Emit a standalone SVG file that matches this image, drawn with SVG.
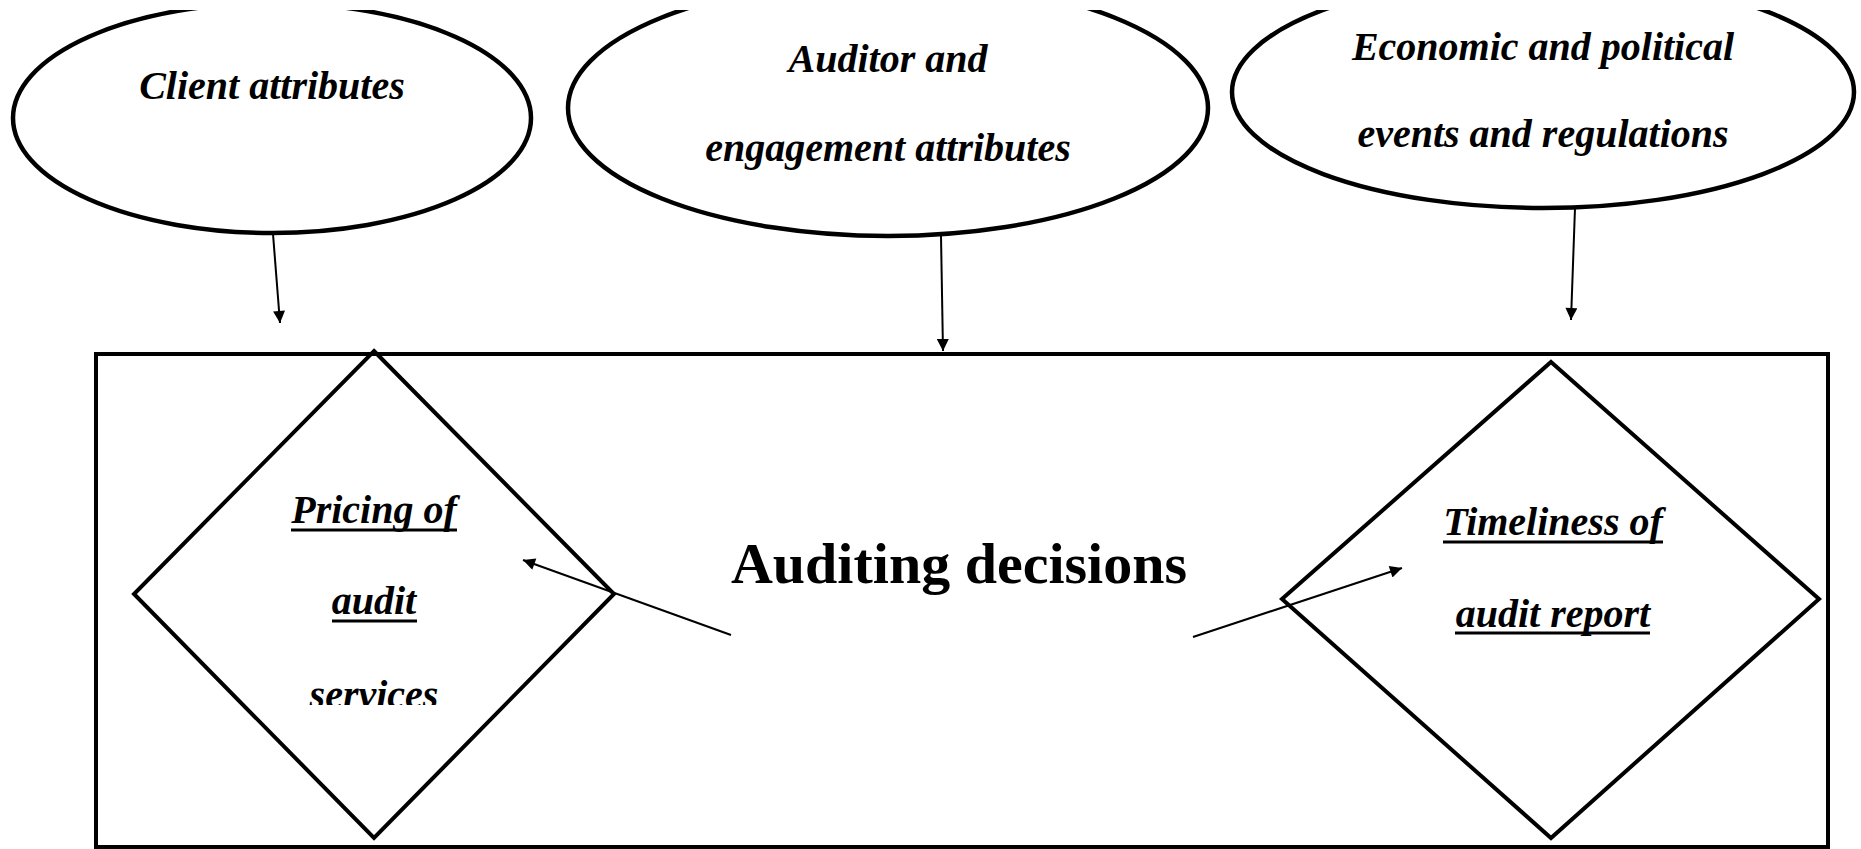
<svg xmlns="http://www.w3.org/2000/svg" width="1861" height="849" viewBox="0 0 1861 849">
  <style>
    .shape { fill: none; stroke: #000; stroke-width: 4; stroke-linejoin: miter; }
    .oval { fill: none; stroke: #000; stroke-width: 4.5; }
    .lbl { font-family: "Liberation Serif", "Times New Roman", serif; font-size: 40px; font-weight: bold; font-style: italic; fill: #000; text-anchor: middle; }
    .uline { stroke: #000; stroke-width: 3; }
    .title { font-family: "Liberation Serif", "Times New Roman", serif; font-size: 58px; font-weight: bold; fill: #000; text-anchor: middle; }
    .conn { stroke: #000; stroke-width: 2; fill: none; }
  </style>
  <defs>
    <marker id="arrow" viewBox="0 0 10 10" refX="10" refY="5" markerWidth="15" markerHeight="12" markerUnits="userSpaceOnUse" orient="auto">
      <path d="M0,0 L10,5 L0,10 Z" fill="#000"/>
    </marker>
    <!-- page area below the cropped top margin -->
    <clipPath id="page">
      <rect x="0" y="10" width="1861" height="839"/>
    </clipPath>
    <!-- text box of the left diamond, cutting the last line -->
    <clipPath id="pricingBox">
      <rect x="150" y="380" width="450" height="325"/>
    </clipPath>
  </defs>

  <rect width="1861" height="849" fill="#fff"/>

  <!-- outer frame -->
  <g id="auditing-decisions">
    <rect class="shape" x="96" y="354" width="1732" height="493"/>
    <text class="title" x="959" y="583">Auditing decisions</text>
  </g>

  <g id="client-attributes">
    <ellipse class="oval" cx="272" cy="118" rx="259" ry="115" clip-path="url(#page)"/>
    <text class="lbl" x="272" y="99">Client attributes</text>
  </g>

  <g id="auditor-attributes">
    <ellipse class="oval" cx="888" cy="108" rx="320" ry="128" clip-path="url(#page)"/>
    <text class="lbl" x="888" y="72">Auditor and</text>
    <text class="lbl" x="888" y="161">engagement attributes</text>
  </g>

  <g id="economic-events">
    <ellipse class="oval" cx="1543" cy="92" rx="311" ry="116" clip-path="url(#page)"/>
    <text class="lbl" x="1543" y="60">Economic and political</text>
    <text class="lbl" x="1543" y="147">events and regulations</text>
  </g>

  <g id="pricing">
    <polygon class="shape" points="374,351 614,594 374,838 134,594"/>
    <g clip-path="url(#pricingBox)">
      <text class="lbl" x="374" y="523">Pricing of</text>
      <line class="uline" x1="291" y1="530" x2="457" y2="530"/>
      <text class="lbl" x="374" y="614">audit</text>
      <line class="uline" x1="332" y1="621" x2="417" y2="621"/>
      <text class="lbl" x="374" y="708">services</text>
    </g>
  </g>

  <g id="timeliness">
    <polygon class="shape" points="1551,362 1819,599 1551,838 1282,599"/>
    <text class="lbl" x="1553" y="535">Timeliness of</text>
    <line class="uline" x1="1443" y1="542" x2="1663" y2="542"/>
    <text class="lbl" x="1553" y="627">audit report</text>
    <line class="uline" x1="1455" y1="633" x2="1650" y2="633"/>
  </g>

  <g id="connectors">
    <line class="conn" x1="273" y1="234" x2="280" y2="323" marker-end="url(#arrow)"/>
    <line class="conn" x1="941" y1="236" x2="943" y2="351" marker-end="url(#arrow)"/>
    <line class="conn" x1="1575" y1="208" x2="1571" y2="320" marker-end="url(#arrow)"/>
    <line class="conn" x1="731" y1="635" x2="523" y2="560" marker-end="url(#arrow)"/>
    <line class="conn" x1="1193" y1="637" x2="1402" y2="568" marker-end="url(#arrow)"/>
  </g>
</svg>
